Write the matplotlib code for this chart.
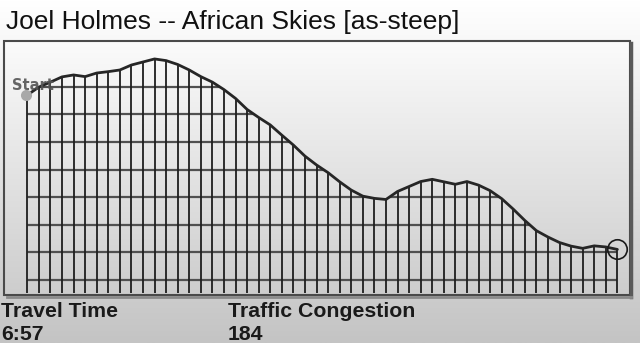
import numpy as np
import matplotlib
matplotlib.use("Agg")
import matplotlib.pyplot as plt
from matplotlib.colors import LinearSegmentedColormap
from matplotlib.lines import Line2D
from matplotlib.patches import Polygon, Rectangle

# elevation profile, one value per vertical grid line (grid units)
elevation = [6.70, 6.99, 7.17, 7.36, 7.43, 7.37, 7.50, 7.55, 7.61, 7.79,
             7.90, 8.01, 7.95, 7.81, 7.61, 7.37, 7.17, 6.90, 6.58, 6.18,
             5.89, 5.62, 5.25, 4.89, 4.49, 4.17, 3.89, 3.56, 3.26, 3.04,
             2.96, 2.92, 3.21, 3.39, 3.57, 3.65, 3.56, 3.47, 3.57, 3.44,
             3.24, 2.95, 2.57, 2.16, 1.79, 1.56, 1.36, 1.23, 1.15, 1.24,
             1.20, 1.11]
levels = [0, 1, 2, 3, 4, 5, 6, 7]

title = "Joel Holmes -- African Skies [as-steep]"
stat_names = ["Travel Time", "Traffic Congestion"]
stat_values = ["6:57", "184"]

W, H = 640, 343
fig = plt.figure(figsize=(W / 100, H / 100), dpi=100)

# page background gradient
bg = fig.add_axes([0, 0, 1, 1])
bg.axis("off")
page_cmap = LinearSegmentedColormap.from_list("page", ["#c4c4c4", "#ffffff"])
bg.imshow(np.linspace(0, 1, 256).reshape(-1, 1), cmap=page_cmap, aspect="auto",
          extent=[0, 1, 0, 1], origin="lower")
bg.set_xlim(0, 1)
bg.set_ylim(0, 1)

# chart box
ax = fig.add_axes([4 / W, 1 - 295 / H, 626 / W, 254 / H])
ax.axis("off")
x0, x1, y0, y1 = -2.01, 52.09, -0.54, 8.66
box_cmap = LinearSegmentedColormap.from_list("box", ["#cdcdcd", "#fbfbfb"])
ax.imshow(np.linspace(0, 1, 256).reshape(-1, 1), cmap=box_cmap, aspect="auto",
          extent=[x0, x1, y0, y1], origin="lower", zorder=0)
ax.set_xlim(x0, x1)
ax.set_ylim(y0, y1)

idx = np.arange(len(elevation))
elev = np.array(elevation)
base = -0.47

ax.vlines(idx, base, elev, colors="#1e1e1e", lw=1.3, zorder=2)
clip = Polygon(np.column_stack([np.r_[idx, idx[::-1]],
                                np.r_[elev, np.full(len(idx), base)]]),
               closed=True, fc="none", ec="none", transform=ax.transData)
ax.add_patch(clip)
hl = ax.hlines(levels, idx[0], idx[-1], colors="#505050", lw=1.6, zorder=1)
hl.set_clip_path(clip)

ax.plot(idx, elev, color="#262626", lw=2.0, solid_capstyle="round", zorder=3)
ax.plot(idx[0] - 0.1, elev[0], "o", ms=8, color="#a8a8a8", mec="none", zorder=4)
ax.text(0.45, 7.05, "Start", ha="center", va="center", fontsize=10.5,
        fontweight="bold", color="#555555", alpha=0.9, zorder=5)
ax.plot(idx[-1], elev[-1], "o", ms=14, mfc="none", mec="#1a1a1a", mew=1.2,
        zorder=4)

# frame with shadow
ax.add_patch(Rectangle((0, 0), 1, 1, transform=ax.transAxes, fill=False,
                       ec="#4a4a4a", lw=1.5, clip_on=False, zorder=6))
fig.add_artist(Line2D([631 / W, 631 / W], [1 - 43 / H, 1 - 297 / H],
                      color="#5a5a5a", lw=2.5))
fig.add_artist(Line2D([7 / W, 631 / W], [1 - 297 / H, 1 - 297 / H],
                      color="#8a8a8a", lw=2))

fig.text(6 / W, 1 - 28.5 / H, title, fontsize=19, family="Liberation Sans",
         color="#111111", va="baseline")
for x, name, val in zip([1, 228], stat_names, stat_values):
    fig.text(x / W, 1 - 317 / H, name, fontsize=15.3, family="Liberation Sans",
             fontweight="bold", color="#1a1a1a", va="baseline")
    fig.text(x / W, 1 - 340 / H, val, fontsize=15.3, family="Liberation Sans",
             fontweight="bold", color="#1a1a1a", va="baseline")

fig.savefig("out.png", dpi=100)
